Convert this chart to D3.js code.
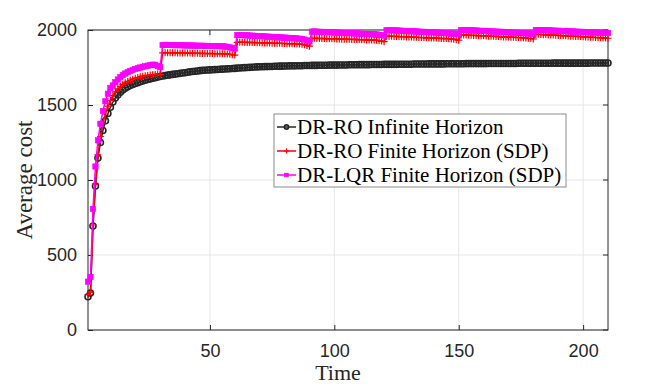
<!DOCTYPE html>
<html>
<head>
<meta charset="utf-8">
<script src="https://cdn.jsdelivr.net/npm/d3@7"></script>
<style>
  html, body { margin: 0; padding: 0; background: #fff; }
  svg { display: block; }
</style>
</head>
<body>
<div id="chart"></div>
<script>
// Average cost per time step, t = 1..210
const infiniteRO = [
  222, 246, 693, 960, 1146, 1250, 1330, 1395, 1444, 1485,
  1520, 1547, 1567, 1585, 1600, 1612, 1622, 1630, 1637, 1643,
  1649, 1655, 1660, 1665, 1670, 1674, 1678, 1682, 1686, 1690,
  1693, 1696, 1699, 1701, 1704, 1706, 1708, 1711, 1713, 1715,
  1718, 1721, 1723, 1725, 1727, 1729, 1731, 1732, 1733, 1734,
  1735, 1736, 1737, 1738, 1739, 1740, 1741, 1742, 1743, 1744,
  1746, 1747, 1748, 1749, 1750, 1751, 1752, 1753, 1754, 1755,
  1755, 1756, 1756, 1757, 1757, 1758, 1758, 1759, 1759, 1760,
  1760, 1761, 1761, 1761, 1762, 1762, 1762, 1763, 1763, 1763,
  1764, 1764, 1764, 1765, 1765, 1765, 1765, 1766, 1766, 1766,
  1766, 1767, 1767, 1767, 1767, 1768, 1768, 1768, 1768, 1769,
  1769, 1769, 1769, 1769, 1770, 1770, 1770, 1770, 1770, 1771,
  1771, 1771, 1771, 1771, 1771, 1772, 1772, 1772, 1772, 1772,
  1772, 1773, 1773, 1773, 1773, 1773, 1773, 1774, 1774, 1774,
  1774, 1774, 1774, 1774, 1775, 1775, 1775, 1775, 1775, 1775,
  1775, 1775, 1776, 1776, 1776, 1776, 1776, 1776, 1776, 1776,
  1776, 1777, 1777, 1777, 1777, 1777, 1777, 1777, 1777, 1777,
  1777, 1777, 1777, 1778, 1778, 1778, 1778, 1778, 1778, 1778,
  1778, 1778, 1778, 1778, 1778, 1778, 1778, 1779, 1779, 1779,
  1779, 1779, 1779, 1779, 1779, 1779, 1779, 1779, 1779, 1779,
  1779, 1779, 1780, 1780, 1780, 1780, 1780, 1780, 1780, 1780
];

const finiteRO = [
  235, 252, 700, 972, 1168, 1290, 1375, 1440, 1492, 1530,
  1562, 1588, 1608, 1625, 1638, 1648, 1657, 1665, 1672, 1678,
  1683, 1688, 1692, 1695, 1698, 1700, 1702, 1704, 1705, 1702,
  1848, 1849, 1849, 1848, 1848, 1848, 1847, 1847, 1847, 1846,
  1846, 1846, 1845, 1845, 1845, 1844, 1844, 1844, 1843, 1843,
  1843, 1842, 1842, 1842, 1841, 1841, 1840, 1838, 1835, 1833,
  1918, 1919, 1918, 1918, 1917, 1917, 1916, 1916, 1915, 1915,
  1914, 1914, 1913, 1913, 1912, 1912, 1911, 1911, 1910, 1910,
  1909, 1909, 1908, 1908, 1907, 1906, 1905, 1902, 1897, 1892,
  1944, 1945, 1944, 1944, 1943, 1943, 1942, 1942, 1941, 1941,
  1940, 1940, 1939, 1939, 1938, 1938, 1937, 1937, 1936, 1936,
  1935, 1935, 1934, 1934, 1933, 1932, 1931, 1929, 1926, 1922,
  1958, 1959, 1958, 1957, 1957, 1956, 1955, 1955, 1954, 1953,
  1953, 1952, 1951, 1950, 1950, 1949, 1948, 1948, 1947, 1946,
  1946, 1945, 1944, 1943, 1943, 1942, 1940, 1938, 1935, 1932,
  1966, 1967, 1966, 1965, 1965, 1964, 1963, 1962, 1962, 1961,
  1960, 1959, 1958, 1958, 1957, 1956, 1955, 1954, 1954, 1953,
  1952, 1951, 1950, 1950, 1949, 1948, 1947, 1945, 1943, 1940,
  1970, 1971, 1970, 1969, 1968, 1967, 1966, 1966, 1965, 1964,
  1963, 1962, 1961, 1960, 1959, 1958, 1957, 1957, 1956, 1955,
  1954, 1953, 1952, 1951, 1950, 1949, 1948, 1947, 1946, 1945
];

const finiteLQR = [
  322, 353, 807, 1090, 1265, 1375, 1460, 1525, 1575, 1612,
  1630, 1652, 1670, 1686, 1699, 1710, 1719, 1727, 1734, 1740,
  1745, 1750, 1754, 1758, 1762, 1766, 1769, 1768, 1760, 1752,
  1900, 1901, 1900, 1900, 1899, 1899, 1899, 1898, 1898, 1897,
  1897, 1897, 1896, 1896, 1895, 1895, 1895, 1894, 1894, 1893,
  1893, 1893, 1892, 1892, 1891, 1890, 1888, 1884, 1879, 1876,
  1966, 1967, 1966, 1965, 1964, 1963, 1962, 1961, 1960, 1959,
  1958, 1957, 1956, 1955, 1954, 1953, 1952, 1951, 1950, 1949,
  1948, 1947, 1946, 1945, 1944, 1942, 1940, 1936, 1930, 1924,
  1989, 1990, 1989, 1988, 1987, 1987, 1986, 1985, 1984, 1984,
  1983, 1982, 1981, 1980, 1980, 1979, 1978, 1977, 1977, 1976,
  1975, 1974, 1973, 1973, 1972, 1971, 1970, 1968, 1966, 1963,
  1998, 1999, 1998, 1997, 1997, 1996, 1995, 1994, 1993, 1993,
  1992, 1991, 1990, 1989, 1988, 1987, 1987, 1986, 1985, 1984,
  1983, 1982, 1981, 1980, 1979, 1978, 1977, 1976, 1974, 1972,
  2000, 2000, 1999, 1998, 1998, 1997, 1996, 1995, 1994, 1994,
  1993, 1992, 1991, 1990, 1989, 1988, 1988, 1987, 1986, 1985,
  1984, 1983, 1982, 1981, 1980, 1979, 1978, 1977, 1976, 1974,
  2000, 2000, 2000, 1999, 1998, 1998, 1997, 1996, 1995, 1995,
  1994, 1993, 1992, 1991, 1991, 1990, 1989, 1988, 1988, 1987,
  1986, 1985, 1985, 1984, 1983, 1983, 1982, 1981, 1981, 1980
];

const seriesNames = [
  "DR-RO Infinite Horizon",
  "DR-RO Finite Horizon (SDP)",
  "DR-LQR Finite Horizon (SDP)"
];
const xTicks = [50, 100, 150, 200];
const yTicks = [0, 500, 1000, 1500, 2000];

const width = 664, height = 386;
const margin = { top: 30, right: 56, bottom: 56, left: 88 };
const innerW = width - margin.left - margin.right;
const innerH = height - margin.top - margin.bottom;

const svg = d3.select("#chart")
  .append("svg")
  .attr("width", width)
  .attr("height", height);

const x = d3.scaleLinear().domain([1, 210]).range([0, innerW]);
const y = d3.scaleLinear().domain([0, 2000]).range([innerH, 0]);

const g = svg.append("g").attr("transform", `translate(${margin.left},${margin.top})`);

// grid
g.append("g")
  .selectAll("line")
  .data(xTicks)
  .join("line")
  .attr("x1", d => x(d)).attr("x2", d => x(d))
  .attr("y1", 0).attr("y2", innerH)
  .attr("stroke", "#e6e6e6").attr("stroke-width", 1);

g.append("g")
  .selectAll("line")
  .data(yTicks)
  .join("line")
  .attr("x1", 0).attr("x2", innerW)
  .attr("y1", d => y(d)).attr("y2", d => y(d))
  .attr("stroke", "#e6e6e6").attr("stroke-width", 1);

// axes
const tickFont = "'Liberation Sans', Arial, sans-serif";
const xAxis = g.append("g")
  .attr("transform", `translate(0,${innerH})`)
  .call(d3.axisBottom(x).tickValues(xTicks).tickFormat(d3.format("d")).tickSize(-5).tickPadding(14));
const yAxis = g.append("g")
  .call(d3.axisLeft(y).tickValues(yTicks).tickFormat(d3.format("d")).tickSize(-5).tickPadding(11));

[xAxis, yAxis].forEach(a => {
  a.select(".domain").remove();
  a.selectAll(".tick line").attr("stroke", "#262626");
  a.selectAll(".tick text")
    .attr("fill", "#262626")
    .style("font-family", tickFont)
    .style("font-size", "18px");
});

// box
g.append("rect")
  .attr("width", innerW).attr("height", innerH)
  .attr("fill", "none").attr("stroke", "#262626").attr("stroke-width", 1);

// top/right tick marks
g.append("g").selectAll("line").data(xTicks).join("line")
  .attr("x1", d => x(d)).attr("x2", d => x(d)).attr("y1", 0).attr("y2", 5)
  .attr("stroke", "#262626");
g.append("g").selectAll("line").data(yTicks).join("line")
  .attr("x1", innerW).attr("x2", innerW - 5).attr("y1", d => y(d)).attr("y2", d => y(d))
  .attr("stroke", "#262626");

const series = [
  { name: seriesNames[0], values: infiniteRO, color: "#262626", marker: "circle" },
  { name: seriesNames[1], values: finiteRO, color: "#ff0000", marker: "plus" },
  { name: seriesNames[2], values: finiteLQR, color: "#ff00ff", marker: "square" }
];

const line = d3.line()
  .x((d, i) => x(i + 1))
  .y(d => y(d));

function drawMarkers(sel, s, pts, k = 1) {
  if (s.marker === "circle") {
    sel.selectAll("circle").data(pts).join("circle")
      .attr("cx", d => d[0]).attr("cy", d => d[1]).attr("r", 3 * k)
      .attr("fill", "none").attr("stroke", s.color).attr("stroke-width", 1.6);
  } else if (s.marker === "plus") {
    const h = 3.5 * k;
    sel.selectAll("path").data(pts).join("path")
      .attr("d", d => `M${d[0] - h},${d[1]}H${d[0] + h}M${d[0]},${d[1] - h}V${d[1] + h}`)
      .attr("stroke", s.color).attr("stroke-width", 1.2);
  } else {
    const h = 2.7 * k;
    sel.selectAll("rect").data(pts).join("rect")
      .attr("x", d => d[0] - h).attr("y", d => d[1] - h)
      .attr("width", 2 * h).attr("height", 2 * h)
      .attr("fill", s.color).attr("stroke", s.color).attr("stroke-width", 0.6);
  }
}

const plot = g.append("g");
series.forEach(s => {
  const sg = plot.append("g");
  sg.append("path")
    .datum(s.values)
    .attr("d", line)
    .attr("fill", "none")
    .attr("stroke", s.color)
    .attr("stroke-width", 1.5);
  const pts = s.values.map((v, i) => [x(i + 1), y(v)]);
  drawMarkers(sg.append("g"), s, pts);
});

// labels
const serif = "'Liberation Serif', 'DejaVu Serif', serif";
svg.append("text")
  .attr("x", 338).attr("y", 380)
  .attr("text-anchor", "middle")
  .style("font-family", serif).style("font-size", "22px")
  .attr("fill", "#262626")
  .text("Time");

svg.append("text")
  .attr("transform", `translate(32,180) rotate(-90)`)
  .attr("text-anchor", "middle")
  .style("font-family", serif).style("font-size", "23px")
  .attr("fill", "#262626")
  .text("Average cost");

// legend
const lg = svg.append("g").attr("transform", "translate(274,114)");
lg.append("rect")
  .attr("width", 292).attr("height", 73)
  .attr("fill", "#fff").attr("stroke", "#8c8c8c").attr("stroke-width", 1);

series.forEach((s, i) => {
  const cy = 13 + i * 24;
  const row = lg.append("g");
  row.append("line")
    .attr("x1", 3).attr("x2", 22).attr("y1", cy).attr("y2", cy)
    .attr("stroke", s.color).attr("stroke-width", 1.5);
  drawMarkers(row.append("g"), s, [[12.5, cy]], 0.7);
  row.append("text")
    .attr("x", 23).attr("y", cy + 7)
    .style("font-family", serif).style("font-size", "21px")
    .attr("fill", "#000")
    .text(s.name);
});
</script>
</body>
</html>
